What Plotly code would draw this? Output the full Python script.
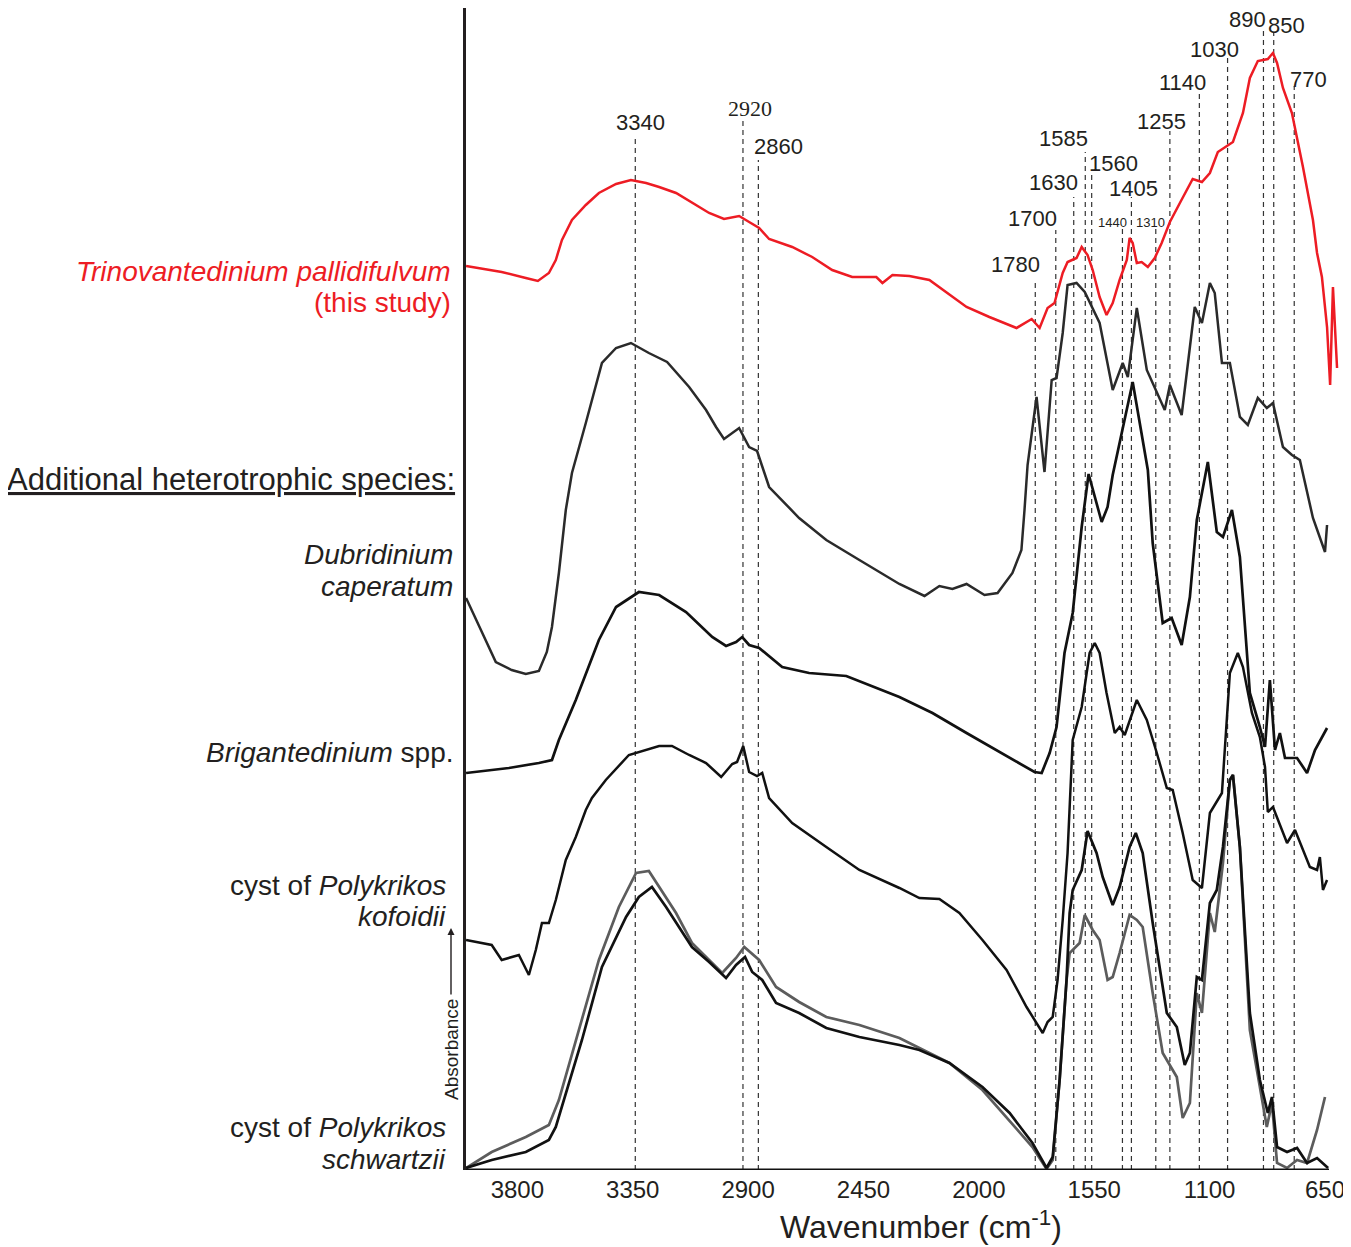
import plotly.graph_objects as go

# ---------------- data (wavenumber cm-1, relative absorbance, stacked) ----------------
red_wn = [4000, 3861, 3767, 3720, 3677, 3650, 3626, 3587, 3533, 3482, 3415, 3357, 3298, 3247, 3181, 3119,
          3052, 2994, 2935, 2896, 2857, 2818, 2728, 2650, 2572, 2494, 2400, 2376, 2337, 2271, 2193, 2048,
          1959, 1853, 1794, 1763, 1732, 1705, 1673, 1654, 1619, 1599, 1576, 1556, 1529, 1502, 1478, 1451,
          1423, 1412, 1400, 1384, 1365, 1341, 1314, 1287, 1255, 1216, 1166, 1130, 1099, 1068, 1009, 970,
          943, 912, 873, 853, 837, 814, 779, 736, 697, 681, 662, 642, 630, 619, 603]
red_abs = [904, 898, 892, 889, 897, 910, 930, 950, 965, 977, 986, 990, 987, 983, 977, 967,
           957, 951, 954, 948, 942, 931, 923, 913, 900, 893, 893, 887, 895, 894, 890, 863,
           853, 842, 851, 842, 862, 867, 897, 908, 912, 923, 915, 900, 873, 855, 867, 890,
           910, 932, 927, 907, 908, 903, 912, 927, 948, 967, 991, 988, 997, 1018, 1028, 1057,
           1092, 1109, 1111, 1117, 1107, 1082, 1057, 1003, 950, 917, 893, 843, 785, 883, 802]

dub_wn = [4000, 3884, 3822, 3767, 3716, 3685, 3665, 3638, 3611, 3587, 3533, 3470, 3415, 3357, 3287, 3216,
          3130, 3064, 3025, 2994, 2935, 2896, 2865, 2830, 2818, 2701, 2595, 2466, 2310, 2212, 2154, 2103,
          2048, 1978, 1927, 1869, 1834, 1822, 1810, 1775, 1744, 1716, 1697, 1673, 1654, 1619, 1587, 1529,
          1478, 1439, 1419, 1384, 1345, 1275, 1255, 1209, 1158, 1130, 1099, 1080, 1052, 1021, 982, 951,
          912, 877, 853, 814, 779, 748, 697, 650, 642]
dub_abs = [572, 508, 500, 496, 499, 518, 543, 597, 660, 697, 747, 807, 822, 827, 817, 808,
           783, 760, 743, 731, 742, 723, 719, 692, 683, 652, 630, 610, 586, 574, 584, 581,
           586, 575, 577, 597, 620, 660, 705, 773, 698, 790, 792, 837, 885, 887, 878, 847,
           780, 807, 793, 862, 800, 760, 785, 755, 863, 847, 887, 877, 807, 807, 753, 745,
           772, 762, 767, 723, 715, 710, 652, 618, 645]

bri_wn = [4000, 3833, 3716, 3665, 3638, 3572, 3482, 3415, 3326, 3247, 3142, 3040, 2986, 2947, 2923, 2896,
          2857, 2767, 2662, 2517, 2310, 2181, 2048, 1919, 1814, 1783, 1755, 1724, 1697, 1666, 1634, 1599,
          1572, 1541, 1521, 1498, 1478, 1400, 1341, 1322, 1283, 1248, 1209, 1177, 1150, 1107, 1072, 1048,
          1013, 982, 943, 904, 884, 865, 845, 826, 806, 759, 720, 689, 662, 642]
bri_abs = [397, 402, 407, 410, 430, 470, 530, 563, 578, 575, 558, 533, 524, 528, 533, 525,
           522, 503, 497, 494, 473, 457, 437, 418, 402, 398, 397, 417, 443, 517, 557, 643,
           696, 667, 648, 663, 695, 788, 700, 627, 547, 552, 525, 573, 650, 708, 638, 633,
           660, 613, 477, 443, 423, 490, 420, 437, 412, 412, 397, 420, 433, 442]

kof_wn = [4000, 3900, 3861, 3794, 3755, 3728, 3704, 3677, 3650, 3611, 3572, 3533, 3509, 3455, 3365, 3247,
          3197, 3130, 3064, 3005, 2962, 2943, 2919, 2896, 2865, 2845, 2818, 2728, 2595, 2466, 2310, 2232,
          2154, 2076, 1986, 1892, 1814, 1751, 1732, 1712, 1693, 1673, 1654, 1634, 1599, 1568, 1548, 1529,
          1502, 1470, 1451, 1431, 1384, 1345, 1306, 1267, 1244, 1205, 1166, 1130, 1099, 1052, 1021, 990,
          970, 935, 904, 884, 873, 853, 798, 767, 709, 681, 670, 658, 642]
kof_abs = [230, 225, 210, 215, 195, 220, 247, 247, 270, 310, 333, 360, 372, 390, 415, 424,
           424, 415, 407, 393, 406, 408, 424, 398, 394, 397, 372, 347, 323, 300, 282, 272,
           271, 257, 230, 200, 163, 137, 148, 153, 190, 250, 317, 430, 463, 517, 527, 517,
           477, 437, 443, 435, 470, 450, 417, 382, 380, 337, 290, 282, 357, 377, 497, 517,
           503, 457, 433, 403, 358, 363, 327, 340, 303, 300, 313, 280, 290]

sch_wn = [4000, 3900, 3767, 3677, 3650, 3611, 3548, 3470, 3376, 3326, 3275, 3220, 3169, 3119, 3052, 2986,
          2947, 2912, 2884, 2845, 2791, 2701, 2595, 2466, 2310, 2232, 2115, 1986, 1880, 1791, 1736, 1712,
          1685, 1658, 1646, 1634, 1599, 1576, 1541, 1517, 1478, 1451, 1412, 1388, 1361, 1322, 1267, 1228,
          1197, 1177, 1150, 1130, 1099, 1072, 1048, 1021, 1009, 982, 943, 904, 873, 857, 837, 798,
          759, 720, 681, 638]
sch_abs = [2, 10, 18, 30, 43, 77, 130, 203, 253, 273, 283, 263, 243, 223, 208, 192,
           205, 213, 198, 190, 167, 157, 142, 133, 125, 120, 107, 83, 57, 27, 2, 13,
           90, 190, 257, 280, 300, 339, 317, 293, 265, 283, 323, 337, 317, 247, 157, 143,
           105, 117, 193, 190, 267, 280, 323, 390, 395, 323, 157, 90, 57, 73, 23, 18,
           22, 7, 12, 2]

sch2_wn = [4000, 3900, 3767, 3677, 3638, 3572, 3482, 3404, 3337, 3287, 3247, 3181, 3119, 3001, 2947, 2915,
           2857, 2791, 2701, 2595, 2466, 2310, 2115, 1986, 1791, 1736, 1712, 1685, 1658, 1646, 1607, 1587,
           1556, 1529, 1498, 1478, 1451, 1412, 1384, 1361, 1322, 1283, 1228, 1205, 1177, 1150, 1130, 1099,
           1080, 1048, 1021, 1009, 982, 943, 904, 877, 857, 837, 798, 759, 720, 681, 650]
sch2_abs = [2, 18, 33, 45, 70, 130, 210, 263, 297, 299, 283, 257, 227, 197, 212, 223,
            210, 183, 168, 153, 145, 132, 107, 80, 23, 1, 10, 90, 190, 217, 227, 255,
            240, 230, 190, 193, 217, 255, 250, 243, 177, 117, 93, 52, 67, 177, 157, 257,
            238, 307, 390, 395, 323, 140, 83, 43, 67, 7, 2, 10, 7, 40, 73]

band_wn = [3340, 2920, 2860, 1780, 1700, 1630, 1585, 1560, 1440, 1405, 1310, 1255, 1140, 1030, 890, 850, 770]
band_labels = ["3340", "2920", "2860", "1780", "1700", "1630", "1585", "1560", "1440", "1405", "1310",
               "1255", "1140", "1030", "890", "850", "770"]

tick_vals = [3800, 3350, 2900, 2450, 2000, 1550, 1100, 650]

# ---------------- layout geometry (window pixels) ----------------
WIN_W, WIN_H = 1351, 1247
OFF = 8                      # page body margin
W, H = WIN_W - OFF, WIN_H - OFF
PLOT_L, PLOT_R, PLOT_T, PLOT_B = 466, 1340, 8, 1170   # plot area in window pixels
L, R, T, B = PLOT_L - OFF, WIN_W - PLOT_R, PLOT_T - OFF, WIN_H - PLOT_B
PW, PH = PLOT_R - PLOT_L, PLOT_B - PLOT_T
Y_MAX = PH  # data units equal to pixels above the baseline

def paper_x(px):
    return (px - PLOT_L) / PW

def paper_y(py):
    return (PLOT_B - py) / PH

FONT = "Arial, Liberation Sans, Helvetica, sans-serif"
INK = "#231f20"

fig = go.Figure()

series = [
    (red_wn, red_abs, "#ed1c24", 2.5),
    (dub_wn, dub_abs, "#2a2a2a", 2.5),
    (bri_wn, bri_abs, "#111111", 2.7),
    (kof_wn, kof_abs, "#111111", 2.5),
    (sch2_wn, sch2_abs, "#5c5c5c", 2.7),
    (sch_wn, sch_abs, "#111111", 2.7),
]
for wn, ab, col, lw in series:
    fig.add_trace(go.Scatter(x=wn, y=ab, mode="lines", line=dict(color=col, width=lw),
                             showlegend=False, hoverinfo="skip"))

# dashed band lines and their labels
line_top = [1032, 1050, 1010, 890, 940, 973, 1018, 995, 941, 973, 941, 1039, 1076, 1112, 1143, 1137, 1084]
label_y = [1048, 1062, 1024, 906, 952, 988, 1032, 1007, 948, 982, 948, 1049, 1088, 1121, 1151, 1145, 1091]
label_dx = [5, 7, 20, -20, -23, -20, -22, 22, -10, 2, -5, -8, -17, -13, -16, 13, 14]
shapes = []
annotations = []
for wn, lab, top, ly, dx in zip(band_wn, band_labels, line_top, label_y, label_dx):
    shapes.append(dict(type="line", xref="x", yref="y", x0=wn, x1=wn, y0=0, y1=top,
                       line=dict(color="#333333", width=1.2, dash="5px,4px"), layer="below"))
    small = lab in ("1440", "1310")
    serif = lab == "2920"
    annotations.append(dict(x=wn, y=ly, xref="x", yref="y", text=lab, showarrow=False,
                            xshift=dx, xanchor="center", yanchor="middle", borderpad=0,
                            font=dict(family="Liberation Serif, Times New Roman, serif" if serif else FONT,
                                      size=13 if small else 22, color=INK)))

# bottom axis line (ends at the last data point)
shapes.append(dict(type="line", xref="paper", yref="y", x0=0, x1=paper_x(1329), y0=0, y1=0,
                   line=dict(color="#111111", width=3)))

# left side labels
def left_label(text, py, px_right, color=INK, size=28):
    annotations.append(dict(x=paper_x(px_right), y=paper_y(py), xref="paper", yref="paper", text=text,
                            showarrow=False, xanchor="right", yanchor="middle",
                            font=dict(family=FONT, size=size, color=color)))

left_label("<i>Trinovantedinium pallidifulvum</i>", 271, 453, "#ed1c24")
left_label("(this study)", 303, 453, "#ed1c24")
left_label("<u>Additional heterotrophic species:</u>", 479, 457, INK, 31)
left_label("<i>Dubridinium</i>", 554, 455)
left_label("<i>caperatum</i>", 586, 455)
left_label("<i>Brigantedinium</i> spp.", 752, 455)
left_label("cyst of <i>Polykrikos</i>", 886, 448)
left_label("<i>kofoidii</i>", 916, 448)
left_label("cyst of <i>Polykrikos</i>", 1127, 448)
left_label("<i>schwartzii</i>", 1159, 448)

# Absorbance label with arrow
annotations.append(dict(x=paper_x(451), y=paper_y(1050), xref="paper", yref="paper", text="Absorbance",
                        textangle=-90, showarrow=False, xanchor="center", yanchor="middle",
                        font=dict(family=FONT, size=19, color=INK)))
annotations.append(dict(x=paper_x(451), y=paper_y(928), xref="paper", yref="paper", text="",
                        showarrow=True, ax=0, ay=68, arrowhead=2, arrowsize=1, arrowwidth=1.4,
                        arrowcolor=INK))

# x axis title
annotations.append(dict(x=paper_x(921), y=paper_y(1225), xref="paper", yref="paper",
                        text="Wavenumber (cm<sup>-1</sup>)", showarrow=False,
                        xanchor="center", yanchor="middle",
                        font=dict(family=FONT, size=32, color=INK)))

px_per_unit = 0.2564
x_left = 650 + (1325 - PLOT_L) / px_per_unit
x_right = 650 - (PLOT_R - 1325) / px_per_unit

fig.update_layout(
    width=W, height=H,
    margin=dict(l=L, r=R, t=T, b=B, pad=0, autoexpand=False),
    paper_bgcolor="white", plot_bgcolor="white",
    shapes=shapes, annotations=annotations,
    xaxis=dict(range=[x_left, x_right], tickmode="array", tickvals=tick_vals,
               ticktext=[str(v) for v in tick_vals], ticks="", showgrid=False, zeroline=False,
               showline=False, ticklabelstandoff=3,
               tickfont=dict(family=FONT, size=24, color=INK)),
    yaxis=dict(range=[0, Y_MAX], showticklabels=False, ticks="", showgrid=False, zeroline=False,
               showline=True, linecolor="#231f20", linewidth=3),
    showlegend=False,
)

fig.write_html("out.html")
